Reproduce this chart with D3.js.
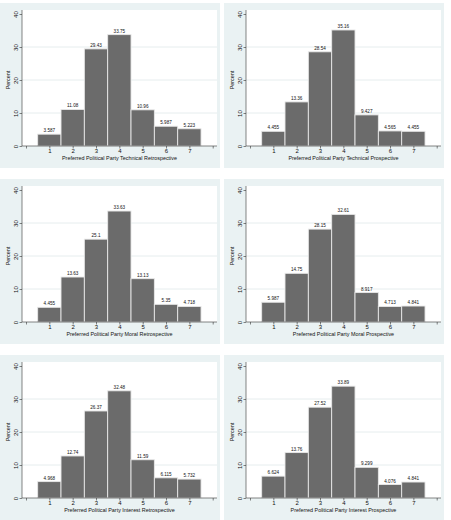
<!DOCTYPE html>
<html>
<head>
<meta charset="utf-8">
<script src="https://cdn.jsdelivr.net/npm/d3@7"></script>
<style>
  body { margin: 0; background: #ffffff; }
  svg { display: block; font-family: "Liberation Sans", Arial, sans-serif; }
</style>
</head>
<body>
<div id="chart"></div>
<script>
// categories on the x axis (1..7) and the percent of respondents in each
const categories = [1, 2, 3, 4, 5, 6, 7]
const techRetro = [3.587, 11.08, 29.43, 33.75, 10.96, 5.987, 5.223]
const techProsp = [4.455, 13.36, 28.54, 35.16, 9.427, 4.565, 4.455]
const moralRetro = [4.455, 13.63, 25.1, 33.63, 13.13, 5.35, 4.718]
const moralProsp = [5.987, 14.75, 28.15, 32.61, 8.917, 4.713, 4.841]
const interestRetro = [4.968, 12.74, 26.37, 32.48, 11.59, 6.115, 5.732]
const interestProsp = [6.624, 13.76, 27.52, 33.89, 9.299, 4.076, 4.841]

const titles = [
  'Preferred Political Party Technical Retrospective',
  'Preferred Political Party Technical Prospective',
  'Preferred Political Party Moral Retrospective',
  'Preferred Political Party Moral Prospective',
  'Preferred Political Party Interest Retrospective',
  'Preferred Political Party Interest Prospective'
]
const seriesList = [techRetro, techProsp, moralRetro, moralProsp, interestRetro, interestProsp]
const yTicks = [0, 10, 20, 30, 40]
const xTicks = [0, 1, 2, 3, 4, 5, 6, 7, 8]

const width = 451
const height = 520
const colOffsets = [0, 224]
const rowOffsets = [14, 190, 366]   // y position of the "40" tick per row

const colors = {
  background: '#eaf2f3',
  grid: '#e0e9ea',
  bar: '#6b6b6b',
  barStroke: '#e8e8e8',
  axis: '#333333',
  text: '#111111'
}

const svg = d3.select('#chart')
  .append('svg')
  .attr('width', width)
  .attr('height', height)

// scales are the same for every panel, only translated
const xScale = d3.scaleLinear().domain([0, 8]).range([26, 212.7])
const yScale = d3.scaleLinear().domain([0, 40]).range([132, 0])

const drawPanel = (g, data, title) => {
  // outer graph region
  g.append('rect')
    .attr('x', 0)
    .attr('y', -11)
    .attr('width', 220)
    .attr('height', 165)
    .attr('fill', colors.background)

  // white plot region
  g.append('rect')
    .attr('x', 22)
    .attr('y', -4)
    .attr('width', 195)
    .attr('height', 136)
    .attr('fill', '#ffffff')

  // gridlines
  g.append('g')
    .selectAll('line')
    .data(yTicks.filter(d => d > 0 && d < 40))
    .enter()
    .append('line')
    .attr('x1', 22)
    .attr('x2', 217)
    .attr('y1', d => yScale(d))
    .attr('y2', d => yScale(d))
    .attr('stroke', colors.grid)
    .attr('stroke-width', 0.8)

  // bars
  g.append('g')
    .selectAll('rect')
    .data(categories)
    .enter()
    .append('rect')
    .attr('x', d => xScale(d - 0.5))
    .attr('y', (d, i) => yScale(data[i]))
    .attr('width', xScale(1) - xScale(0))
    .attr('height', (d, i) => yScale(0) - yScale(data[i]))
    .attr('fill', colors.bar)
    .attr('stroke', colors.barStroke)
    .attr('stroke-width', 0.9)

  // value labels
  g.append('g')
    .selectAll('text')
    .data(categories)
    .enter()
    .append('text')
    .attr('x', d => xScale(d))
    .attr('y', (d, i) => yScale(data[i]) - 2)
    .attr('text-anchor', 'middle')
    .attr('font-size', 4.6)
    .attr('fill', colors.text)
    .text((d, i) => data[i])

  // x axis
  const xAxis = d3.axisBottom(xScale)
    .tickValues(xTicks)
    .tickSize(2.5)
    .tickPadding(0.5)
    .tickFormat(d => (d >= 1 && d <= 7) ? d : '')
  const gX = g.append('g')
    .attr('transform', `translate(0, ${yScale(0)})`)
    .call(xAxis)
  gX.select('.domain')
    .attr('d', 'M22,0H217')
    .attr('stroke', colors.axis)
    .attr('stroke-width', 0.6)
  gX.selectAll('.tick line').attr('stroke', colors.axis).attr('stroke-width', 0.6)
  gX.selectAll('.tick text')
    .attr('font-size', 6)
    .attr('font-family', null)
    .attr('fill', colors.text)

  // y axis
  const yAxis = d3.axisLeft(yScale)
    .tickValues(yTicks)
    .tickSize(2.5)
    .tickFormat(d3.format('d'))
  const gY = g.append('g')
    .attr('transform', 'translate(22, 0)')
    .call(yAxis)
  gY.select('.domain')
    .attr('d', 'M0,-4V132')
    .attr('stroke', colors.axis)
    .attr('stroke-width', 0.6)
  gY.selectAll('.tick line').attr('stroke', colors.axis).attr('stroke-width', 0.6)
  gY.selectAll('.tick text')
    .attr('x', null)
    .attr('dy', null)
    .attr('transform', 'translate(-4, 0) rotate(-90)')
    .attr('text-anchor', 'middle')
    .attr('font-size', 6.2)
    .attr('font-family', null)
    .attr('fill', colors.text)

  // axis titles
  g.append('text')
    .attr('transform', `translate(9.5, ${yScale(20)}) rotate(-90)`)
    .attr('text-anchor', 'middle')
    .attr('font-size', 5.4)
    .attr('fill', colors.text)
    .text('Percent')

  g.append('text')
    .attr('x', (22 + 217) / 2)
    .attr('y', yScale(0) + 13.6)
    .attr('text-anchor', 'middle')
    .attr('font-size', 5.4)
    .attr('fill', colors.text)
    .text(title)
}

seriesList.forEach((data, i) => {
  const col = i % 2
  const row = Math.floor(i / 2)
  const g = svg.append('g')
    .attr('transform', `translate(${colOffsets[col]}, ${rowOffsets[row]})`)
  drawPanel(g, data, titles[i])
})
</script>
</body>
</html>
